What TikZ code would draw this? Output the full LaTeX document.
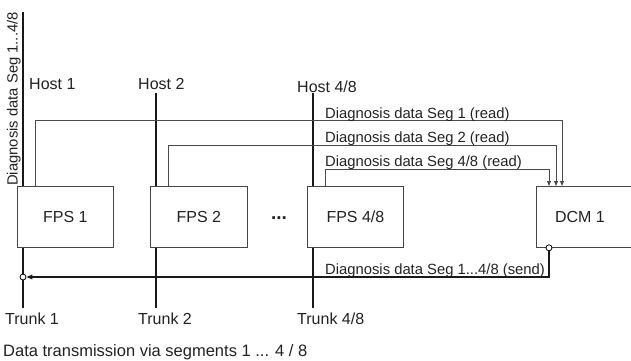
\documentclass[tikz,border=0pt]{standalone}
\usepackage{fontspec}
\setmainfont{Liberation Sans}
\usetikzlibrary{arrows.meta,calc,positioning}
\definecolor{ink}{HTML}{222222}
\definecolor{edge}{HTML}{454545}
\definecolor{wire}{HTML}{4A4A4A}

\begin{document}
\begin{tikzpicture}[x=1pt,y=-1pt,
      box/.style={draw=edge,line width=0.8pt,minimum width=96pt,minimum height=61pt,
                  anchor=north west,inner sep=0pt,text=ink,font=\fontsize{16}{19}\selectfont},
      lbl/.style={inner sep=0pt,anchor=base west,text=ink,font=\fontsize{16}{19}\selectfont},
      seg/.style={inner sep=0pt,anchor=base west,text=ink,font=\fontsize{14.8}{17}\selectfont},
      bus/.style={draw=black!90,line width=1.2pt},
      rd/.style={draw=wire,line width=0.9pt,-{Triangle[length=5pt,width=4pt]}},
      snd/.style={draw=black!90,line width=1.2pt,-{Triangle[length=6pt,width=4.5pt]}},
      tap/.style={circle,draw=black,line width=0.8pt,fill=white,inner sep=0pt,minimum size=6pt}]
    \clip (0,0) rectangle (631,360);

    % segment modules
    \node[box] (fps1) at (17,186) {FPS 1};
    \node[box,minimum width=97pt] (fps2) at (150,186) {FPS 2};
    \node[font=\fontsize{19}{22}\selectfont\bfseries,text=ink] (dots) at (279,218) {...};
    \node[box] (fpsn) at (307,186) {FPS 4/8};
    \node[box,minimum width=140pt] (dcm) at (536,186) {};
    \node[lbl,anchor=center] (dcmlbl) at ($(dcm.west)+(44,0)$) {DCM 1};

    \coordinate (t1) at ($(fps1.north west)+(6,0)$);
    \coordinate (t2) at ($(fps2.north west)+(6,0)$);
    \coordinate (tn) at ($(fpsn.north west)+(6,0)$);

    % hosts and trunks
    \node[seg,rotate=90,anchor=south west] (diag) at (21,186) {Diagnosis data Seg 1...4/8};
    \node[lbl] (host1) at (29,89) {Host 1};
    \node[lbl] (host2) at (138,89) {Host 2};
    \node[lbl] (hostn) at (297,92) {Host 4/8};
    \node[lbl] (trunk1) at (5,324) {Trunk 1};
    \node[lbl] (trunk2) at (138,324) {Trunk 2};
    \node[lbl] (trunkn) at (297,324) {Trunk 4/8};

    \draw[bus] (t1 |- diag.east) -- (t1);
    \draw[bus,shorten <=4pt] (t2 |- host2.south) -- (t2);
    \draw[bus,shorten <=1pt] (tn |- hostn.south) -- (tn);
    \draw[bus,shorten >=4.5pt] (t1 |- fps1.south) -- (t1 |- trunk1.north);
    \draw[bus,shorten >=4.5pt] (t2 |- fps2.south) -- (t2 |- trunk2.north);
    \draw[bus,shorten >=4.5pt] (tn |- fpsn.south) -- (tn |- trunkn.north);

    % read paths
    \coordinate (r1) at ($(fps1.north west)+(18,0)$);
    \coordinate (r2) at ($(fps2.north west)+(18,0)$);
    \coordinate (rn) at ($(fpsn.north west)+(18,0)$);
    \draw[rd] (r1) -- ++(0,-66) -| ($(dcm.north west)+(26,0)$);
    \draw[rd] (r2) -- ++(0,-41) -| ($(dcm.north west)+(20,0)$);
    \draw[rd] (rn) -- ++(0,-17) -| ($(dcm.north west)+(13,0)$);
    \node[seg] (rd1) at (325,118) {Diagnosis data Seg 1 (read)};
    \node[seg] (rd2) at (325,142) {Diagnosis data Seg 2 (read)};
    \node[seg] (rdn) at (325,166) {Diagnosis data Seg 4/8 (read)};

    % send path
    \node[tap] (out) at ($(dcm.south west)+(13,0)$) {};
    \node[tap] (in) at (23,277) {};
    \draw[snd] (out) |- (in);
    \node[seg] (sd) at (325,274) {Diagnosis data Seg 1...4/8 (send)};

    \node[lbl,font=\fontsize{16.5}{20}\selectfont] (cap) at (3,356) {Data transmission via segments 1 ... 4 / 8};
  \end{tikzpicture}
\end{document}
